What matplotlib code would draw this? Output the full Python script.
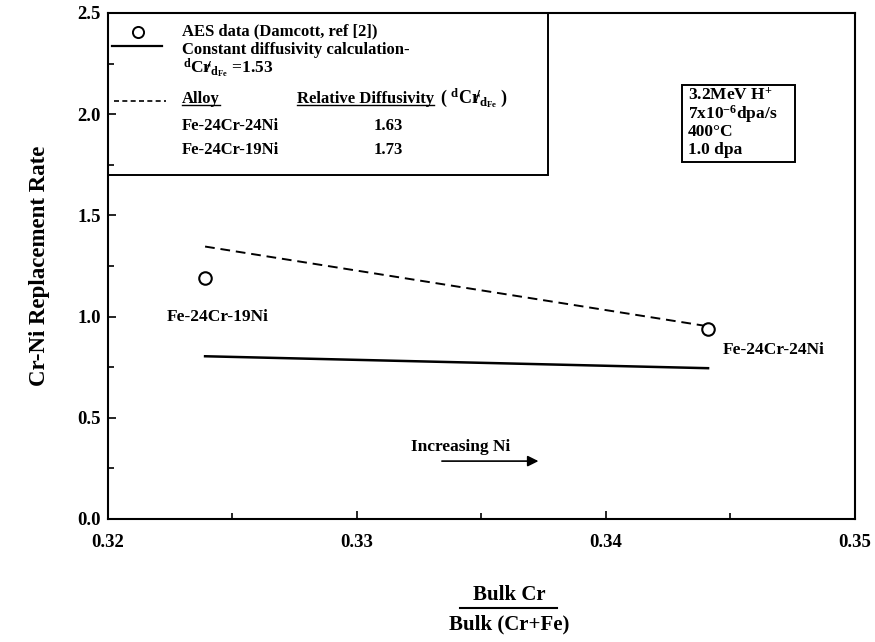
import numpy as np
import matplotlib
matplotlib.use("Agg")
import matplotlib.pyplot as plt
from matplotlib.patches import Rectangle
from matplotlib.lines import Line2D
from matplotlib.ticker import MultipleLocator

plt.rcParams['font.family'] = ['Liberation Serif', 'DejaVu Serif']
plt.rcParams['font.weight'] = 'bold'
plt.rcParams['mathtext.fontset'] = 'custom'
plt.rcParams['mathtext.rm'] = 'Liberation Serif:bold'
plt.rcParams['mathtext.bf'] = 'Liberation Serif:bold'
plt.rcParams['mathtext.it'] = 'Liberation Serif:bold'

# bulk Cr/(Cr+Fe) for the two alloys
alloys = ["Fe-24Cr-19Ni", "Fe-24Cr-24Ni"]
bulk_ratio = [0.3239, 0.3441]
aes_rate = [1.19, 0.937]          # measured (AES)
const_diff_rate = [0.804, 0.745]  # constant diffusivity, dCr/dFe = 1.53
alloy_diff_rate = [1.346, 0.952]  # alloy specific diffusivities
rel_diff = ["1.63", "1.73"]       # Fe-24Cr-24Ni, Fe-24Cr-19Ni

fig = plt.figure(figsize=(8.75, 6.42), dpi=100)
ax = fig.add_axes([0.1234, 0.1916, 0.8537, 0.7882])

ax.plot(bulk_ratio, const_diff_rate, color='black', lw=1.8)
ax.plot(bulk_ratio, alloy_diff_rate, color='black', lw=1.4, dashes=(5, 3))
ax.plot(bulk_ratio, aes_rate, ls='none', marker='o', ms=9, mfc='white',
        mec='black', mew=1.5, zorder=5)

ax.set_xlim(0.32, 0.35)
ax.set_ylim(0.0, 2.5)
ax.xaxis.set_major_locator(MultipleLocator(0.01))
ax.xaxis.set_minor_locator(MultipleLocator(0.005))
ax.yaxis.set_major_locator(MultipleLocator(0.5))
ax.yaxis.set_minor_locator(MultipleLocator(0.25))
ax.xaxis.set_major_formatter(plt.FuncFormatter(lambda v, p: f"{v:.2f}"))
ax.yaxis.set_major_formatter(plt.FuncFormatter(lambda v, p: f"{v:.1f}"))
ax.tick_params(which='both', direction='in', top=False, right=False,
               labelsize=13.5, width=1.2)
ax.tick_params(which='major', length=6)
ax.tick_params(which='minor', length=4)
ax.tick_params(axis='x', pad=11)
ax.tick_params(axis='y', pad=5)
for s in ax.spines.values():
    s.set_linewidth(1.5)
for lab in ax.get_xticklabels() + ax.get_yticklabels():
    lab.set_fontweight('bold')

ax.set_ylabel("Cr-Ni Replacement Rate", fontsize=16.5, fontweight='bold',
              labelpad=20)

# point labels
ax.text(bulk_ratio[0] + 0.0005, 1.0, alloys[0], ha='center', va='center',
        fontsize=12.5)
ax.text(bulk_ratio[1] + 0.0006, 0.835, alloys[1], ha='left', va='center',
        fontsize=12.5)

# arrow
ax.annotate("", xy=(0.3374, 0.286), xytext=(0.3333, 0.286),
            arrowprops=dict(arrowstyle='-|>', color='black', lw=1.2,
                            mutation_scale=16))
ax.text(0.33418, 0.355, "Increasing Ni", ha='center', va='center',
        fontsize=12.5)

# legend box
T = ax.transAxes
ax.add_patch(Rectangle((0, 0.680), 0.589, 0.320, transform=T, fill=False,
                       lw=1.4, ec='black', zorder=6))
fs = 12
ax.add_line(Line2D([0.040], [0.962], transform=T, ls='none', marker='o',
                   ms=8, mfc='white', mec='black', mew=1.4))
ax.text(0.099, 0.963, "AES data (Damcott, ref [2])", transform=T,
        va='center', fontsize=fs)
ax.add_line(Line2D([0.005, 0.072], [0.935, 0.935], transform=T,
                   color='black', lw=1.6))
ax.text(0.099, 0.926, "Constant diffusivity calculation-", transform=T,
        va='center', fontsize=fs)
ax.text(0.101, 0.891, r"$^{\mathrm{d}}\mathrm{Cr}\!\!/_{\mathrm{d}_{\mathrm{Fe}}}$ =1.53",
        transform=T, va='center', fontsize=12.5)
ax.add_line(Line2D([0.008, 0.078], [0.826, 0.826], transform=T,
                   color='black', lw=1.2, dashes=(3, 2)))
hdr1 = ax.text(0.099, 0.830, "Alloy", transform=T, va='center', fontsize=fs)
hdr2 = ax.text(0.253, 0.830, "Relative Diffusivity", transform=T,
               va='center', fontsize=fs)
ax.text(0.444, 0.832, r"( $^{\mathrm{d}}\mathrm{Cr}\!\!/_{\mathrm{d}_{\mathrm{Fe}}}$ )",
        transform=T, va='center', fontsize=13)
ax.text(0.099, 0.776, alloys[1], transform=T, va='center', fontsize=fs)
ax.text(0.375, 0.776, rel_diff[0], transform=T, va='center', ha='center',
        fontsize=fs)
ax.text(0.099, 0.730, alloys[0], transform=T, va='center', fontsize=fs)
ax.text(0.375, 0.730, rel_diff[1], transform=T, va='center', ha='center',
        fontsize=fs)

# underline the table headers
fig.canvas.draw()
r = fig.canvas.get_renderer()
inv = T.inverted()
for h in (hdr1, hdr2):
    bb = h.get_window_extent(r)
    (x0, y0), (x1, _) = inv.transform([(bb.x0, bb.y0), (bb.x1, bb.y0)])
    ax.add_line(Line2D([x0, x1], [y0 + 0.004, y0 + 0.004], transform=T,
                       color='black', lw=1.0))

# irradiation conditions
ax.add_patch(Rectangle((0.768, 0.706), 0.152, 0.152, transform=T, fill=False,
                       lw=1.4, ec='black'))
cond = [r"3.2MeV H$^{+}$", r"7x10$^{-6}$dpa/s", "400°C", "1.0 dpa"]
for i, c in enumerate(cond):
    ax.text(0.776, 0.837 - i * 0.036, c, transform=T, va='center',
            fontsize=12.5)

# fraction x label
fig.text(0.582, 0.073, "Bulk Cr", ha='center', va='center', fontsize=15)
fig.add_artist(Line2D([0.526, 0.637], [0.053, 0.053], color='black', lw=1.5))
fig.text(0.582, 0.027, "Bulk (Cr+Fe)", ha='center', va='center', fontsize=15)

fig.savefig("out.png", dpi=100)
